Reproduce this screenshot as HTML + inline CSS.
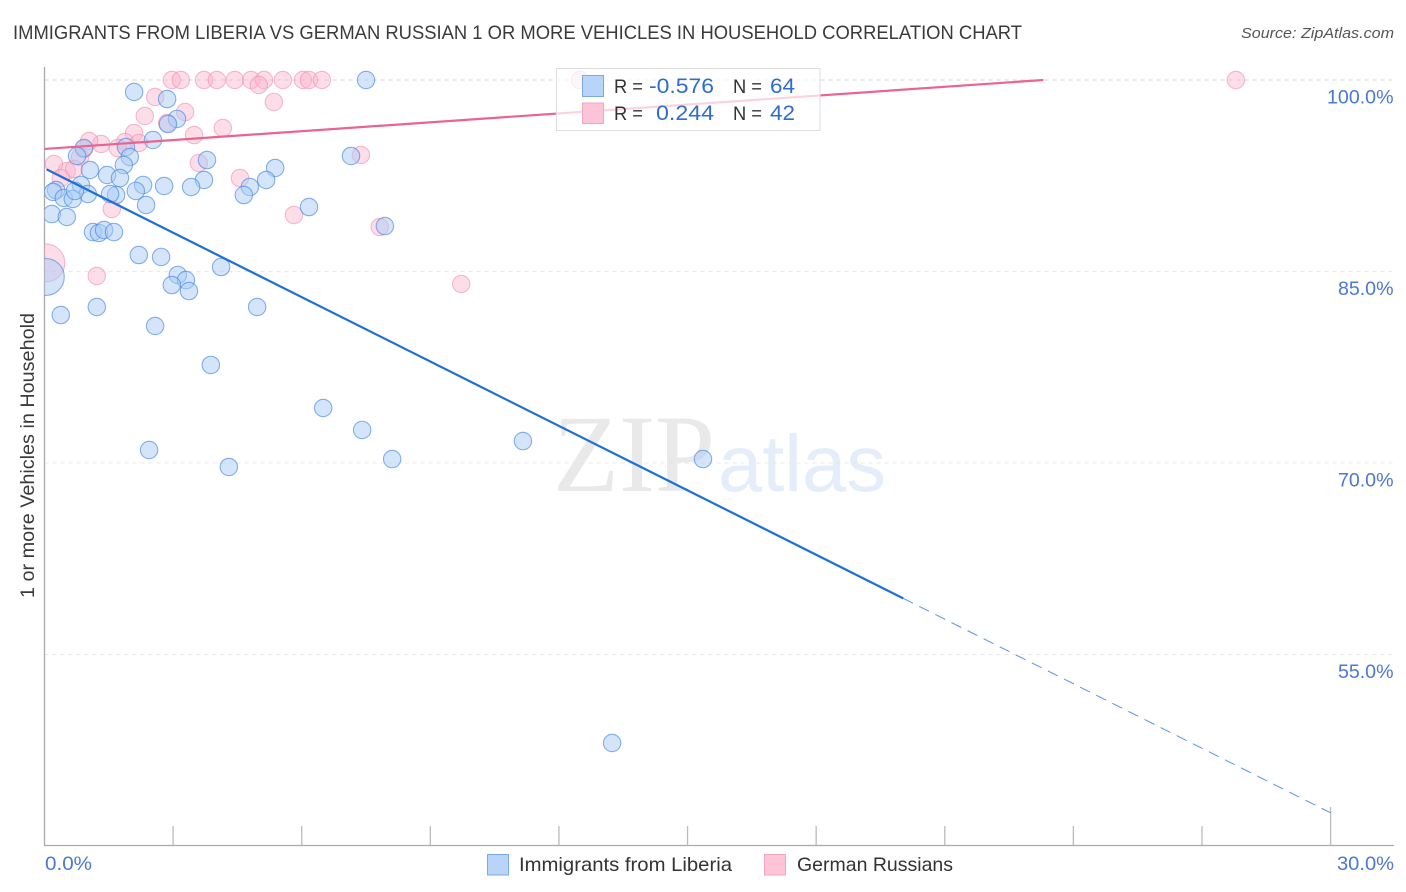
<!DOCTYPE html>
<html lang="en">
<head>
<meta charset="utf-8">
<title>Immigrants from Liberia vs German Russian 1 or more Vehicles in Household Correlation Chart</title>
<style>
html,body{margin:0;padding:0;background:#fff;}
svg{display:block;font-family:"Liberation Sans",sans-serif;}
</style>
</head>
<body>
<svg id="chart" xmlns="http://www.w3.org/2000/svg" width="1406" height="892" viewBox="0 0 1406 892">
  <defs><clipPath id="plot-clip"><rect x="44.5" y="40" width="1350" height="806"/></clipPath></defs>
  <text x="13" y="39" font-size="19" fill="#3a3a3a" textLength="1009" lengthAdjust="spacingAndGlyphs">IMMIGRANTS FROM LIBERIA VS GERMAN RUSSIAN 1 OR MORE VEHICLES IN HOUSEHOLD CORRELATION CHART</text>
  <text x="1241" y="38" font-size="15" font-style="italic" fill="#555" textLength="153" lengthAdjust="spacingAndGlyphs">Source: ZipAtlas.com</text>
  <g>
    <text x="553" y="491" font-family="'Liberation Serif',serif" font-size="110" fill="#e9e9e9" textLength="162" lengthAdjust="spacingAndGlyphs">ZIP</text>
    <text x="718" y="491" font-size="80" fill="#e4edf9" textLength="168" lengthAdjust="spacingAndGlyphs">atlas</text>
  </g>
  <g id="grid"></g>
  <g id="axes"></g>
  <g id="points-pink" clip-path="url(#plot-clip)"></g>
  <g id="points-blue" clip-path="url(#plot-clip)"></g>
  <g id="lines"></g>
  <g>
    <rect x="556.5" y="68.5" width="263.5" height="62" fill="#fff" fill-opacity="0.72" stroke="#ddd" stroke-width="1"/>
    <rect x="582.5" y="75.5" width="21" height="21" fill="#b8d4f8" stroke="#7ba9e8"/>
    <rect x="582.5" y="103" width="21" height="20.5" fill="#fdc3d6" stroke="#f3a6c0"/>
    <text x="614" y="93" font-size="19.5" fill="#333" textLength="29" lengthAdjust="spacingAndGlyphs">R =</text>
    <text x="649" y="93" font-size="21" fill="#2f6ccf" textLength="65" lengthAdjust="spacingAndGlyphs">-0.576</text>
    <text x="733" y="93" font-size="19.5" fill="#333" textLength="29" lengthAdjust="spacingAndGlyphs">N =</text>
    <text x="770" y="93" font-size="21" fill="#2f6ccf" textLength="25" lengthAdjust="spacingAndGlyphs">64</text>
    <text x="614" y="120" font-size="19.5" fill="#333" textLength="29" lengthAdjust="spacingAndGlyphs">R =</text>
    <text x="656" y="120" font-size="21" fill="#2f6ccf" textLength="58" lengthAdjust="spacingAndGlyphs">0.244</text>
    <text x="733" y="120" font-size="19.5" fill="#333" textLength="29" lengthAdjust="spacingAndGlyphs">N =</text>
    <text x="770" y="120" font-size="21" fill="#2f6ccf" textLength="25" lengthAdjust="spacingAndGlyphs">42</text>
  </g>
  <text transform="translate(34,598) rotate(-90)" font-size="19" fill="#3a3a3a" textLength="285" lengthAdjust="spacingAndGlyphs">1 or more Vehicles in Household</text>
  <g>
    <rect x="487.5" y="854.5" width="21" height="20.5" fill="#b8d4f8" stroke="#7ba9e8"/>
    <text x="519" y="871" font-size="19.5" fill="#333" textLength="213" lengthAdjust="spacingAndGlyphs">Immigrants from Liberia</text>
    <rect x="764.5" y="854.5" width="21" height="20.5" fill="#fdc3d6" stroke="#f3a6c0"/>
    <text x="797" y="871" font-size="19.5" fill="#333" textLength="156" lengthAdjust="spacingAndGlyphs">German Russians</text>
  </g>
</svg>
<script>
var yTicks = [100, 85, 70, 55];
var yTickLabels = ['100.0%', '85.0%', '70.0%', '55.0%'];
var xTicks = [3, 6, 9, 12, 15, 18, 21, 24, 27, 30];
var xEndLabels = ['0.0%', '30.0%'];

var liberiaX = [2.09,2.86,7.50,3.09,2.88,2.53,0.92,0.76,1.90,1.99,1.85,1.06,1.46,1.76,3.79,5.38,5.17,3.72,4.79,4.65,3.42,2.79,2.30,2.13,1.67,1.53,0.85,1.01,0.27,0.20,0.45,0.66,0.71,2.37,0.17,0.52,1.13,1.27,1.39,1.62,2.20,2.72,4.12,3.11,3.30,2.97,3.37,0.03,0.38,1.22,4.96,2.58,3.88,7.15,6.17,7.94,6.50,7.41,2.44,4.30,8.11,11.16,15.36,13.24];
var liberiaY = [99.06,98.51,100,96.95,96.55,95.30,94.67,94.05,94.75,93.97,93.34,92.95,92.56,92.32,93.73,93.11,92.17,92.17,91.62,90.99,91.62,91.70,91.78,91.31,90.99,91.07,91.78,91.07,91.38,91.23,90.76,90.68,91.31,90.21,89.50,89.27,88.09,88.02,88.25,88.09,86.29,86.14,85.35,84.73,84.33,83.94,83.47,84.57,81.59,82.22,82.22,80.73,77.68,94.05,90.05,88.56,74.31,72.59,71.02,69.69,70.31,71.72,70.31,48.07];
var liberiaHeavyIndex = [47];

var germanX = [2.97,3.18,3.72,4.02,4.44,4.82,5.12,5.00,5.56,6.03,6.17,6.47,5.35,2.58,2.34,3.28,2.86,4.16,3.49,2.09,1.88,1.71,2.20,1.32,1.04,0.83,0.22,0.52,0.69,0.38,1.57,3.60,4.56,5.82,7.38,7.82,9.72,1.22,27.79,12.49,0.03,0.92];
var germanY = [100,100,100,100,100,100,100,99.61,100,100,100,100,98.28,98.67,97.18,97.49,96.63,96.24,95.69,95.85,95.14,94.67,95.07,94.99,95.22,93.97,93.42,92.87,93.03,92.32,89.90,93.50,92.32,89.43,94.13,88.49,84.02,84.65,100,100,85.67,94.60];
var germanHeavyIndex = [40];

var liberiaTrendX = [0.05, 20.03];
var liberiaTrendY = [93.0, 59.4];
var liberiaDashX = [20.03, 30];
var liberiaDashY = [59.4, 42.6];
var germanTrendX = [0, 23.3];
var germanTrendY = [94.6, 100];

function xScale(v) { return 44.5 + v * 42.87; }
function yScale(v) { return 80 + (100 - v) * 12.767; }
var NS = 'http://www.w3.org/2000/svg';
function make(tag, parentId, attrs) {
  var el = document.createElementNS(NS, tag);
  for (var k in attrs) el.setAttribute(k, attrs[k]);
  document.getElementById(parentId).appendChild(el);
  return el;
}

yTicks.forEach(function (t, i) {
  var g = make('line', 'grid', {x1: 44.5, x2: 1394, y1: yScale(t), y2: yScale(t), stroke: i === 0 ? '#d4d4d4' : '#e8e8e8', 'stroke-width': 1, 'stroke-dasharray': '4 4'});
  
  
  var lab = make('text', 'axes', {x: 1393.5, y: yScale(t) + 23.5, 'font-size': 19.6, fill: '#4a78d2', 'text-anchor': 'end'});
  lab.textContent = yTickLabels[i];
  
  
});

var yAxis = make('line', 'axes', {x1: 44.5, x2: 44.5, y1: 67, y2: 846, stroke: '#aaa', 'stroke-width': 1.3});


var xAxis = make('line', 'axes', {x1: 44, x2: 1394, y1: 845.5, y2: 845.5, stroke: '#aaa', 'stroke-width': 1.3});



xTicks.forEach(function (t, i) {
  var tick = make('line', 'axes', {x1: xScale(t), x2: xScale(t), y1: i === xTicks.length - 1 ? 807 : 826, y2: 845, stroke: '#bbb', 'stroke-width': 1.3});
  
  
});

var xLabLeft = make('text', 'axes', {x: 45, y: 870, 'font-size': 19.6, fill: '#4a78d2', textLength: 47, lengthAdjust: 'spacingAndGlyphs'});
xLabLeft.textContent = xEndLabels[0];


var xLabRight = make('text', 'axes', {x: 1337, y: 870, 'font-size': 19.6, fill: '#4a78d2', textLength: 57, lengthAdjust: 'spacingAndGlyphs'});
xLabRight.textContent = xEndLabels[1];



germanX.forEach(function (v, i) {
  var c = make('circle', 'points-pink', {cx: xScale(v), cy: yScale(germanY[i]), r: germanHeavyIndex.indexOf(i) >= 0 ? 19 : 8.7, fill: '#fbb4cc', 'fill-opacity': 0.45, stroke: '#ee8fb0', 'stroke-opacity': 0.6, 'stroke-width': 1.1});
  
  
});

liberiaX.forEach(function (v, i) {
  var c = make('circle', 'points-blue', {cx: xScale(v), cy: yScale(liberiaY[i]), r: liberiaHeavyIndex.indexOf(i) >= 0 ? 18.5 : 8.7, fill: '#a9cbf5', 'fill-opacity': 0.5, stroke: '#3f83e0', 'stroke-opacity': 0.62, 'stroke-width': 1.1});
  
  
});

var pinkLine = make('line', 'lines', {x1: xScale(germanTrendX[0]), y1: yScale(germanTrendY[0]), x2: xScale(germanTrendX[1]), y2: yScale(germanTrendY[1]), stroke: '#e9648f', 'stroke-width': 2.2});


var blueLine = make('line', 'lines', {x1: xScale(liberiaTrendX[0]), y1: yScale(liberiaTrendY[0]), x2: xScale(liberiaTrendX[1]), y2: yScale(liberiaTrendY[1]), stroke: '#1f6fd6', 'stroke-width': 2.2});


var dashLine = make('line', 'lines', {x1: xScale(liberiaDashX[0]), y1: yScale(liberiaDashY[0]), x2: xScale(liberiaDashX[1]), y2: yScale(liberiaDashY[1]), stroke: '#5a93e2', 'stroke-width': 1, 'stroke-dasharray': '11 7'});


</script>
</body>
</html>
